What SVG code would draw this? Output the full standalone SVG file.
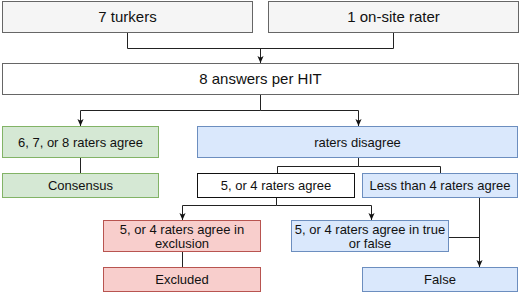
<svg xmlns="http://www.w3.org/2000/svg" width="520" height="292" viewBox="0 0 520 292">
<defs>
<style>
.t{font-family:"Liberation Sans",Arial,sans-serif;fill:#111;text-anchor:middle}
.big{font-size:15px}
.sm{font-size:13px}
.gray{fill:#f5f5f5;stroke:#666;stroke-width:1}
.white{fill:#fff;stroke:#111;stroke-width:1}
.green{fill:#d5e8d4;stroke:#82b366;stroke-width:1}
.blue{fill:#dae8fc;stroke:#6c8ebf;stroke-width:1}
.red{fill:#f8cecc;stroke:#b85450;stroke-width:1}
.c{fill:none;stroke:#222;stroke-width:1}
</style>
<marker id="ah" viewBox="0 0 8 8" refX="8" refY="4" markerWidth="7" markerHeight="7" markerUnits="userSpaceOnUse" orient="auto">
<path d="M0,0.5 L8,4 L0,7.5 L2,4 Z" fill="#111"/>
</marker>
</defs>
<g id="connectors">
<path class="c" d="M127.5,32 V48.5 H393.5 V32"/>
<path class="c" d="M260.5,48.5 V63" marker-end="url(#ah)"/>
<path class="c" d="M260.5,95 V110.5 H80.5 V126" marker-end="url(#ah)"/>
<path class="c" d="M260.5,110.5 H358.5 V126" marker-end="url(#ah)"/>
<path class="c" d="M80.5,158 V173"/>
<path class="c" d="M358.5,158 V166.5 H277.5 V173"/>
<path class="c" d="M358.5,166.5 H440.5 V173"/>
<path class="c" d="M276.5,197 V205.5 H182.5 V220" marker-end="url(#ah)"/>
<path class="c" d="M276.5,205.5 H371.5 V220" marker-end="url(#ah)"/>
<path class="c" d="M182.5,252 V267"/>
<path class="c" d="M479.5,197 V267" marker-end="url(#ah)"/>
<path class="c" d="M448,237.5 H479.5"/>
</g>
<g id="turkers"><rect class="gray" x="2.5" y="1.5" width="250" height="31"/><text class="t big" x="127.5" y="22.3">7 turkers</text></g>
<g id="onsite"><rect class="gray" x="268.5" y="1.5" width="250" height="31"/><text class="t big" x="393.5" y="22.3">1 on-site rater</text></g>
<g id="answers"><rect class="white" x="2.5" y="63.5" width="516" height="31" style="stroke:#666"/><text class="t big" x="260.5" y="84.3">8 answers per HIT</text></g>
<g id="agree"><rect class="green" x="2.5" y="126.5" width="156" height="31"/><text class="t sm" x="80.5" y="146.6">6, 7, or 8 raters agree</text></g>
<g id="consensus"><rect class="green" x="2.5" y="173.5" width="156" height="24"/><text class="t sm" x="80.5" y="190.1">Consensus</text></g>
<g id="disagree"><rect class="blue" x="197.5" y="126.5" width="320" height="31"/><text class="t sm" x="357.5" y="146.6">raters disagree</text></g>
<g id="fiveorfour"><rect class="white" x="197.5" y="173.5" width="157" height="24"/><text class="t sm" x="276" y="190.1">5, or 4 raters agree</text></g>
<g id="lessthan"><rect class="blue" x="362.5" y="173.5" width="155" height="24"/><text class="t sm" x="440" y="190.1">Less than 4 raters agree</text></g>
<g id="exclusion"><rect class="red" x="103.5" y="220.5" width="157" height="31"/><text class="t sm" x="182" y="233.6">5, or 4 raters agree in</text><text class="t sm" x="182" y="247.6">exclusion</text></g>
<g id="truefalse"><rect class="blue" x="291.5" y="220.5" width="157" height="31"/><text class="t sm" x="370" y="233.6">5, or 4 raters agree in true</text><text class="t sm" x="370" y="247.6">or false</text></g>
<g id="excluded"><rect class="red" x="103.5" y="267.5" width="157" height="24"/><text class="t sm" x="182" y="284.1">Excluded</text></g>
<g id="false"><rect class="blue" x="362.5" y="267.5" width="155" height="24"/><text class="t sm" x="440" y="284.1">False</text></g>
</svg>
